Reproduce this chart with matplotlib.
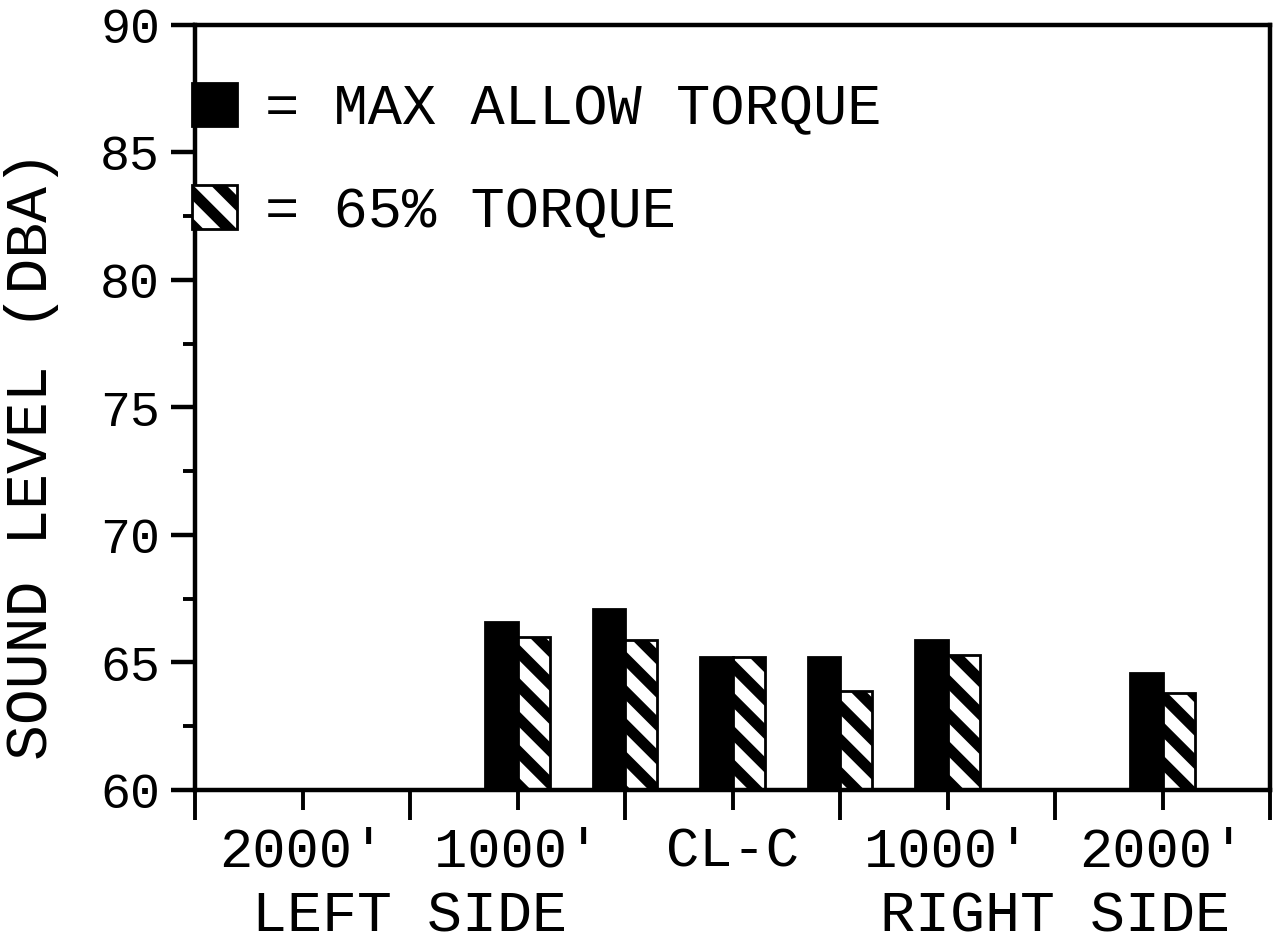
import numpy as np
import matplotlib.pyplot as plt

# положение замеров, футы от оси (минус = левая сторона)
pozicii = [-1000, -500, 0, 500, 1000, 2000]
max_torque = [66.6, 67.1, 65.2, 65.2, 65.9, 64.6]
torque_65 = [66.0, 65.9, 65.2, 63.9, 65.3, 63.8]

tick_pos = [-2000, -1000, 0, 1000, 2000]
tick_lab = ["2000'", "1000'", "CL-C", "1000'", "2000'"]
side_pos = [-1500, 1500]
side_lab = ["LEFT SIDE", "RIGHT SIDE"]

plt.rcParams['font.family'] = ['Liberation Mono', 'DejaVu Sans Mono']
plt.rcParams['hatch.linewidth'] = 4.0
plt.rcParams['hatch.color'] = 'black'

fig = plt.figure(figsize=(6.365, 4.73), dpi=200)
ax = fig.add_axes([195/1273, 1 - 790/946, 1075/1273, 765/946])

w = 150
ax.bar(np.array(pozicii) - w/2, max_torque, w, color='black', edgecolor='black',
       linewidth=1.0, label='= MAX ALLOW TORQUE')
ax.bar(np.array(pozicii) + w/2, torque_65, w, color='white', edgecolor='black',
       linewidth=1.0, hatch='\\\\', label='= 65% TORQUE')

ax.set_xlim(-2500, 2500)
ax.set_ylim(60, 90)

ax.set_xticks(tick_pos)
ax.set_xticklabels(tick_lab, fontsize=20)
ax.set_xticks(np.arange(-2500, 2501, 1000), minor=True)
ax.set_yticks(np.arange(60, 91, 5))
ax.set_yticklabels([str(v) for v in range(60, 91, 5)], fontsize=18)
ax.set_yticks([62.5, 67.5, 72.5, 77.5, 82.5], minor=True)

ax.tick_params(axis='x', which='major', length=7.2, width=1.4, pad=6)
ax.tick_params(axis='x', which='minor', length=10.8, width=1.4)
ax.tick_params(axis='y', which='major', length=8.6, width=1.6, pad=4)
ax.tick_params(axis='y', which='minor', length=4.3, width=1.4)

for s in ax.spines.values():
    s.set_linewidth(1.6)

# подписи сторон второй строкой
for x, t in zip(side_pos, side_lab):
    ax.text(x, -0.166, t, transform=ax.get_xaxis_transform(), ha='center', va='center', fontsize=21)

fig.text(32/1273, 1 - 455/946, 'SOUND LEVEL (DBA)', rotation=90, ha='center', va='center', fontsize=21.5)

ax.legend(loc='upper left', bbox_to_anchor=(-0.003, 0.925), frameon=False, fontsize=20.5,
          handlelength=0.79, handleheight=0.79, handletextpad=0.5, labelspacing=0.85,
          borderpad=0, borderaxespad=0)

fig.savefig('out.png', dpi=200)
